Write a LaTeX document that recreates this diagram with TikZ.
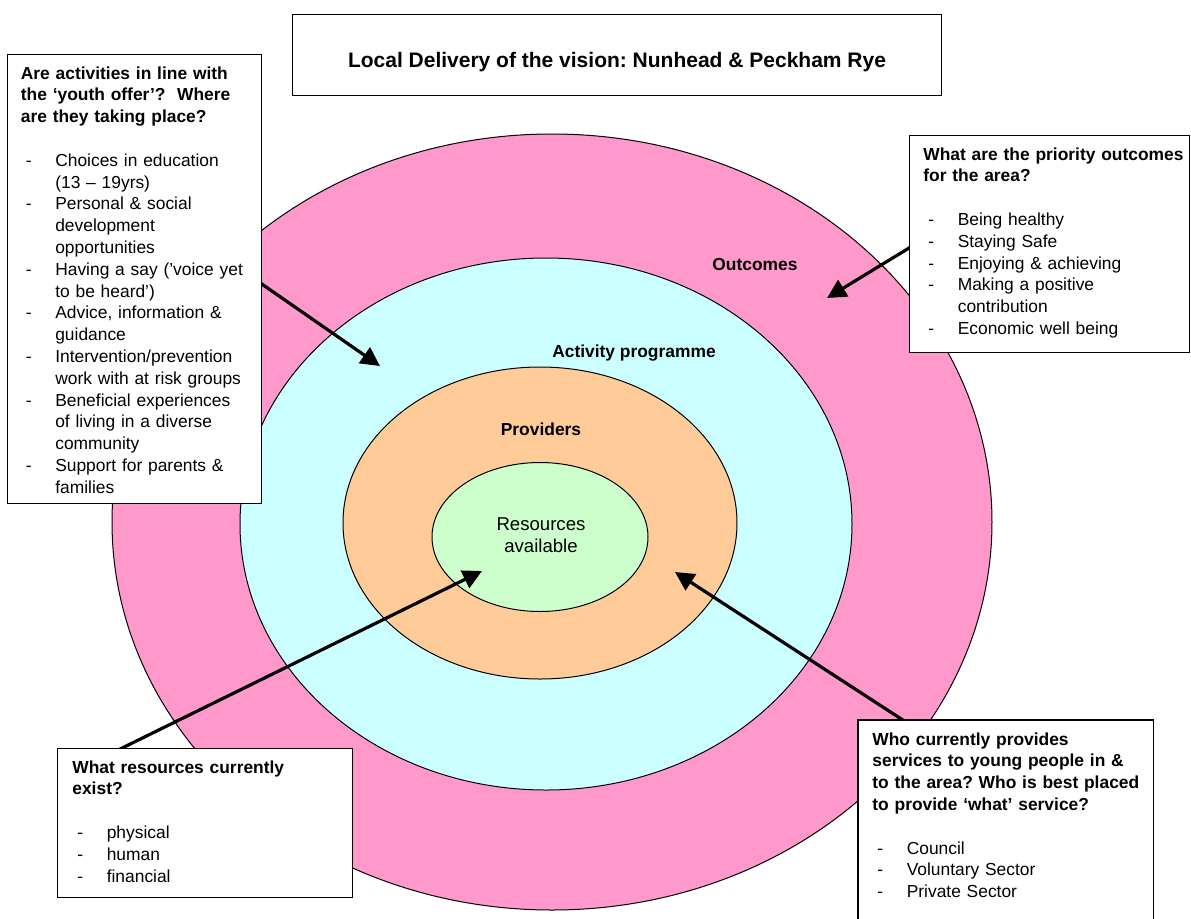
\documentclass[tikz,border=0pt]{standalone}
\usepackage{fontspec}
\setmainfont{Liberation Sans}
\usetikzlibrary{shapes.geometric,arrows.meta}
\definecolor{pinkc}{HTML}{FF99CC}
\definecolor{cyanc}{HTML}{CCFFFF}
\definecolor{orangec}{HTML}{FFCC99}
\definecolor{greenc}{HTML}{CCFFCC}
\newcommand{\bitem}[1]{\hspace*{2.5pt}\makebox[14.7pt][l]{-}#1}
\newcommand{\bcont}[1]{\hspace*{17.2pt}#1}
\frenchspacing
\begin{document}
\begin{tikzpicture}[x=0.5pt,y=-0.5pt,
  ring/.style={ellipse,draw=black,line width=0.5pt,inner sep=0pt},
  boxframe/.style={draw=black,fill=white,line width=0.6pt,inner sep=0pt,anchor=north west},
  boxtext/.style={anchor=base west,inner sep=0pt,text width=170pt,align=left,font=\fontsize{8.7}{10.9}\selectfont},
  lab/.style={font=\fontsize{8.7}{10.9}\selectfont\bfseries,inner sep=0pt},
  pointer/.style={line width=1.6pt,-{Triangle[length=9.5pt,width=9.5pt]}}]

\useasboundingbox (0,0) rectangle (1191,918);

% rings
\node[ring,fill=pinkc,minimum width=440pt,minimum height=388pt] (outer) at (552,522) {};
\node[ring,fill=cyanc,minimum width=306pt,minimum height=266pt] (activity) at (546,524) {};
\node[ring,fill=orangec,minimum width=197pt,minimum height=156pt] (providers) at (540,523) {};
\node[ring,fill=greenc,minimum width=108pt,minimum height=74.5pt] (resources) at (540,537) {};

% ring labels
\node[lab] (outl) at (755,264) {Outcomes};
\node[lab] (actl) at (634,353) {Activity programme};
\node[lab] (provl) at (541,429) {Providers};
\node[font=\fontsize{9.3}{11}\selectfont,align=center,inner sep=0pt] (resl) at (541,535) {Resources\\available};

% arrow ends
\coordinate (s1) at (256,280);
\coordinate (t1) at (380,366);
\coordinate (s2) at (914,245);
\coordinate (t2) at (827,298);
\coordinate (s3) at (114,752);
\coordinate (t3) at (482,571);
\coordinate (s4) at (909,724);
\coordinate (t4) at (675,572);
\draw[pointer] (s1) -- (t1);
\draw[pointer] (s2) -- (t2);
\draw[pointer] (s3) -- (t3);
\draw[pointer] (s4) -- (t4);

% boxes
\node[boxframe,minimum width=324.5pt,minimum height=40.5pt] (titlebox) at (292,14) {};
\node[boxframe,minimum width=127pt,minimum height=224.5pt] (leftbox) at (7,54) {};
\node[boxframe,minimum width=140pt,minimum height=108.5pt] (rightbox) at (909,135) {};
\node[boxframe,minimum width=147.5pt,minimum height=74.5pt] (resbox) at (57,748) {};
\node[boxframe,draw=none,minimum width=147pt,minimum height=100pt] (provbox) at (858,720) {};
\draw[line width=0.6pt] (provbox.south west) -- (provbox.north west) -- (provbox.north east) -- (provbox.south east);

% texts
\node[font=\fontsize{10.5}{12}\selectfont\bfseries,anchor=base,inner sep=0pt] (titletext) at (617,67) {Local Delivery of the vision: Nunhead \& Peckham Rye};

\node[boxtext] (lefttext) at (20.5,79) {%
\textbf{Are activities in line with}\\
\textbf{the ‘youth offer’?\ \ Where}\\
\textbf{are they taking place?}\\[10.9pt]
\bitem{Choices in education}\\
\bcont{(13 – 19yrs)}\\
\bitem{Personal \& social}\\
\bcont{development}\\
\bcont{opportunities}\\
\bitem{Having a say (’voice yet}\\
\bcont{to be heard’)}\\
\bitem{Advice, information \&}\\
\bcont{guidance}\\
\bitem{Intervention/prevention}\\
\bcont{work with at risk groups}\\
\bitem{Beneficial experiences}\\
\bcont{of living in a diverse}\\
\bcont{community}\\
\bitem{Support for parents \&}\\
\bcont{families}};

\node[boxtext] (righttext) at (923,160) {%
\textbf{What are the priority outcomes}\\
\textbf{for the area?}\\[10.9pt]
\bitem{Being healthy}\\
\bitem{Staying Safe}\\
\bitem{Enjoying \& achieving}\\
\bitem{Making a positive}\\
\bcont{contribution}\\
\bitem{Economic well being}};

\node[boxtext] (provtext) at (872,745) {%
\textbf{Who currently provides}\\
\textbf{services to young people in \&}\\
\textbf{to the area? Who is best placed}\\
\textbf{to provide ‘what’ service?}\\[10.9pt]
\bitem{Council}\\
\bitem{Voluntary Sector}\\
\bitem{Private Sector}};

\node[boxtext] (restext) at (72,773) {%
\textbf{What resources currently}\\
\textbf{exist?}\\[10.9pt]
\bitem{physical}\\
\bitem{human}\\
\bitem{financial}};

\end{tikzpicture}
\end{document}
